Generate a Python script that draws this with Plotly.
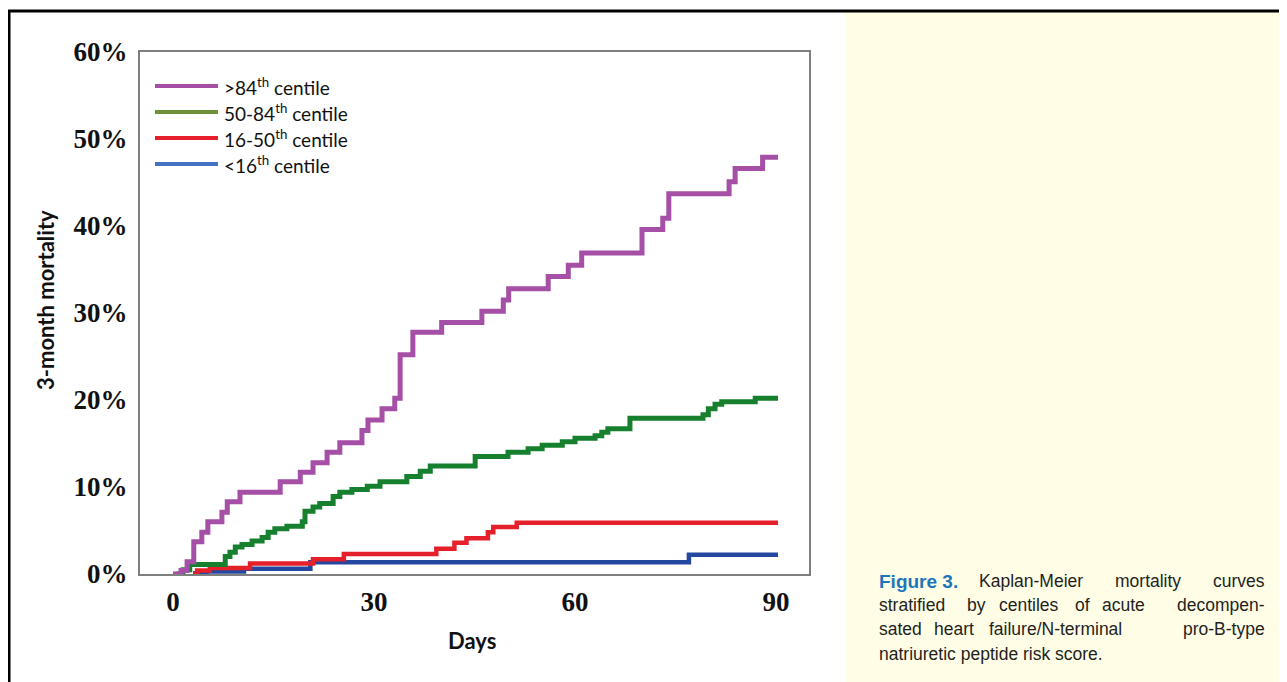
import plotly.graph_objects as go

# page body has an 8px margin; figure is sized so page = 1287x682
OFF = 8
W, H = 1287 - OFF, 682 - OFF

# ---------------- data (days, cumulative mortality %) ----------------
purple_days = [0, 1.2, 2.1, 3.1, 4.3, 5.2, 7.3, 8.1, 10, 16, 19, 20.9, 23, 24.9, 28.2, 29.1,
               31.2, 33.1, 33.9, 35.8, 40.1, 46.1, 49.3, 50.1, 56, 59, 61, 70, 73.1, 74, 83,
               83.9, 88, 90.3]
purple_vals = [0, 0.4, 1.4, 3.7, 4.8, 6.0, 7.1, 8.3, 9.4, 10.6, 11.7, 12.8, 14.0, 15.1, 16.5,
               17.7, 19.0, 20.2, 25.2, 27.8, 28.9, 30.2, 31.5, 32.8, 34.2, 35.5, 36.9, 39.6,
               40.9, 43.7, 45.1, 46.6, 47.9, 47.9]

green_days = [0.5, 1.5, 2.5, 7.8, 8.5, 9.3, 10.3, 11.8, 13.3, 14.2, 15.2, 17, 19.3, 19.7, 20.9,
              21.9, 23.9, 24.9, 26.7, 29, 30.9, 34.9, 36.9, 38.4, 45.1, 50, 53, 55.1, 58.1, 60,
              63, 64, 64.9, 68.2, 79.1, 79.9, 80.9, 81.9, 86.9, 90.3]
green_vals = [0, 0.5, 1.1, 2.0, 2.5, 3.1, 3.4, 3.8, 4.2, 4.8, 5.2, 5.5, 6.0, 7.2, 7.7, 8.1, 8.9,
              9.4, 9.7, 10.1, 10.6, 11.2, 11.8, 12.4, 13.5, 14.0, 14.4, 14.8, 15.2, 15.6, 15.9,
              16.3, 16.7, 17.9, 18.3, 19.0, 19.5, 19.8, 20.2, 20.2]

red_days = [3.0, 3.6, 5.5, 11.5, 20.9, 25.5, 39.3, 42, 43.8, 47, 47.8, 51.3, 90.3]
red_vals = [0, 0.4, 0.7, 1.2, 1.7, 2.3, 2.9, 3.6, 4.1, 4.8, 5.4, 5.9, 5.9]

blue_days = [3, 5, 10.6, 20.5, 77, 90.3]
blue_vals = [0.1, 0.3, 0.6, 1.35, 2.2, 2.2]

series_names = [">84<sup>th</sup> centile", "50-84<sup>th</sup> centile",
                "16-50<sup>th</sup> centile", "<16<sup>th</sup> centile"]
curve_colors = ["#A64FA6", "#17802F", "#E6202A", "#2447A0"]
legend_colors = ["#A64FA6", "#6F8F3A", "#E6202A", "#4472C4"]

x_ticks = [0, 30, 60, 90]
y_ticks = [0, 10, 20, 30, 40, 50, 60]
y_tick_labels = ["0%", "10%", "20%", "30%", "40%", "50%", "60%"]

caption_lines = [
    [("Figure 3.", 877, "left", True), ("Kaplan-Meier", 977, "left", False),
     ("mortality", 1113, "left", False), ("curves", 1267, "right", False)],
    [("stratified", 877, "left", False), ("by", 965, "left", False),
     ("centiles", 997, "left", False), ("of", 1073, "left", False),
     ("acute", 1100, "left", False), ("decompen-", 1267, "right", False)],
    [("sated", 877, "left", False), ("heart", 932, "left", False),
     ("failure/N-terminal", 987, "left", False), ("pro-B-type", 1267, "right", False)],
    [("natriuretic peptide risk score.", 877, "left", False)],
]

# ---------------- helpers (page pixel -> paper) ----------------
def px(x):
    return (x - OFF) / W

def py(y):
    return 1 - (y - OFF) / H

fig = go.Figure()

order = [3, 2, 1, 0]
all_days = [purple_days, green_days, red_days, blue_days]
all_vals = [purple_vals, green_vals, red_vals, blue_vals]
widths = [5, 5, 4.5, 4.5]
for i in order:
    fig.add_trace(go.Scatter(
        x=all_days[i], y=all_vals[i], mode="lines", name=series_names[i],
        line=dict(color=curve_colors[i], width=widths[i], shape="hv"),
        showlegend=False, hoverinfo="skip"))

# plot area in page pixels
L, R, T, B = 140, 809, 52, 574
x0_px, x_per_day = 173, 6.7
xr = [(L - x0_px) / x_per_day, (R - x0_px) / x_per_day]

tick_font = dict(family="Liberation Serif, Times New Roman, serif", size=27, color="#111111")
fig.update_layout(
    width=W, height=H,
    margin=dict(l=0, r=0, t=0, b=0, pad=0),
    paper_bgcolor="white", plot_bgcolor="white",
    showlegend=False,
    xaxis=dict(domain=[px(L), px(R)], range=xr, tickvals=x_ticks,
               ticktext=[f"<b>{t}</b>" for t in x_ticks], tickfont=tick_font,
               showgrid=False, zeroline=False, showline=True, mirror=True,
               linecolor="#7F7F7F", linewidth=2, ticks="outside", ticklen=3,
               tickcolor="rgba(0,0,0,0)", fixedrange=True, automargin=False),
    yaxis=dict(domain=[py(B), py(T)], range=[0, 60], tickvals=y_ticks,
               ticktext=[f"<b>{t}</b>" for t in y_tick_labels], tickfont=tick_font,
               showgrid=False, zeroline=False, showline=True, mirror=True,
               linecolor="#7F7F7F", linewidth=2, ticks="outside", ticklen=5,
               tickcolor="rgba(0,0,0,0)", fixedrange=True, automargin=False),
)

shapes = []
annotations = []

# caption panel background
shapes.append(dict(type="rect", xref="paper", yref="paper", x0=px(845), x1=1, y0=0, y1=py(12),
                   fillcolor="#FFFDE6", line=dict(width=0), layer="below"))
# outer frame
shapes.append(dict(type="line", xref="paper", yref="paper", x0=px(8), x1=1, y0=py(11), y1=py(11),
                   line=dict(color="black", width=3)))
shapes.append(dict(type="line", xref="paper", yref="paper", x0=px(9), x1=px(9), y0=0, y1=py(10),
                   line=dict(color="black", width=3)))

# legend (drawn manually to match long line samples)
leg_y = [86, 112, 138, 164]
for i in range(4):
    shapes.append(dict(type="line", xref="paper", yref="paper", x0=px(155), x1=px(218),
                       y0=py(leg_y[i]), y1=py(leg_y[i]),
                       line=dict(color=legend_colors[i], width=4)))
    annotations.append(dict(xref="paper", yref="paper", x=px(222), y=py(leg_y[i]),
                            xanchor="left", yanchor="middle", showarrow=False,
                            text=series_names[i],
                            font=dict(family="Lato, Open Sans, sans-serif", size=19,
                                      color="#111111")))

# axis titles
annotations.append(dict(xref="paper", yref="paper", x=px(45), y=py(300), textangle=-90,
                        xanchor="center", yanchor="middle", showarrow=False,
                        text="<b>3-month mortality</b>",
                        font=dict(family="Lato, Open Sans, sans-serif", size=22, color="#111111")))
annotations.append(dict(xref="paper", yref="paper", x=px(472), y=py(640),
                        xanchor="center", yanchor="middle", showarrow=False,
                        text="<b>Days</b>",
                        font=dict(family="Lato, Open Sans, sans-serif", size=22, color="#111111")))

# caption
cap_y = [581, 605, 629, 654]
for li, words in enumerate(caption_lines):
    for (txt, xpos, anchor, bold) in words:
        if bold:
            f = dict(family="Liberation Sans Narrow, Liberation Sans, Arial, sans-serif",
                     size=19, color="#1C75BC")
            t = f"<b>{txt}</b>"
        else:
            f = dict(family="Liberation Sans, Arial, Helvetica, sans-serif", size=17.5,
                     color="#231F20")
            t = txt
        annotations.append(dict(xref="paper", yref="paper", x=px(xpos), y=py(cap_y[li]),
                                xanchor=anchor, yanchor="middle", showarrow=False,
                                text=t, font=f))

fig.update_layout(shapes=shapes, annotations=annotations)
fig.write_html("out.html")
